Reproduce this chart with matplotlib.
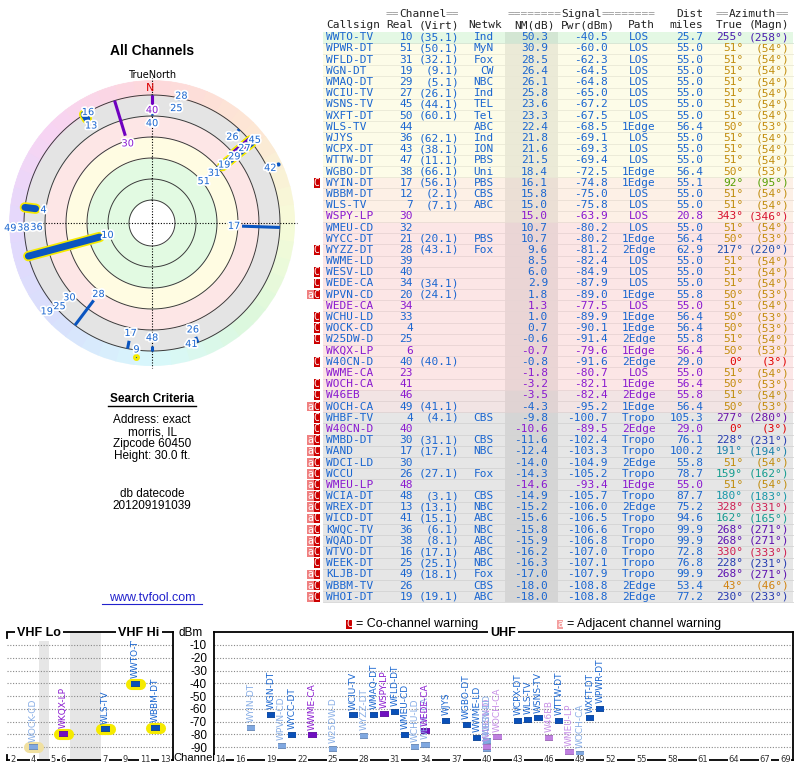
import numpy as np
import matplotlib.pyplot as plt
import matplotlib.patheffects as pe
from matplotlib.patches import Rectangle
from matplotlib.colors import LinearSegmentedColormap, to_rgb

# ---- station table, in the order of the page (sorted by NM) ----
callsign = ['WWTO-TV', 'WPWR-DT', 'WFLD-DT', 'WGN-DT', 'WMAQ-DT', 'WCIU-TV', 'WSNS-TV', 'WXFT-DT',
            'WLS-TV', 'WJYS', 'WCPX-DT', 'WTTW-DT', 'WGBO-DT', 'WYIN-DT', 'WBBM-DT', 'WLS-TV',
            'WSPY-LP', 'WMEU-CD', 'WYCC-DT', 'WYZZ-DT', 'WWME-LD', 'WESV-LD', 'WEDE-CA', 'WPVN-CD',
            'WEDE-CA', 'WCHU-LD', 'WOCK-CD', 'W25DW-D', 'WKQX-LP', 'W40CN-D', 'WWME-CA', 'WOCH-CA',
            'W46EB', 'WOCH-CA', 'WHBF-TV', 'W40CN-D', 'WMBD-DT', 'WAND', 'WDCI-LD', 'WCCU',
            'WMEU-LP', 'WCIA-DT', 'WREX-DT', 'WICD-DT', 'KWQC-TV', 'WQAD-DT', 'WTVO-DT', 'WEEK-DT',
            'KLJB-DT', 'WBBM-TV', 'WHOI-DT']
real_ch = [10, 51, 31, 19, 29, 27, 45, 50, 44, 36, 43, 47, 38, 17, 12, 7, 30, 32, 21, 28,
           39, 40, 34, 20, 34, 33, 4, 25, 6, 40, 23, 41, 46, 49, 4, 40, 30, 17, 30, 26,
           48, 48, 13, 41, 36, 38, 16, 25, 49, 26, 19]
virt_ch = ['35.1', '50.1', '32.1', '9.1', '5.1', '26.1', '44.1', '60.1', '', '62.1', '38.1', '11.1',
           '66.1', '56.1', '2.1', '7.1', '', '', '20.1', '43.1', '', '', '34.1', '24.1', '', '', '',
           '', '', '40.1', '', '', '', '41.1', '4.1', '', '31.1', '17.1', '', '27.1', '', '3.1',
           '13.1', '15.1', '6.1', '8.1', '17.1', '25.1', '18.1', '', '19.1']
network = (['Ind', 'MyN', 'Fox', 'CW', 'NBC', 'Ind', 'TEL', 'Tel', 'ABC', 'Ind', 'ION', 'PBS', 'Uni',
            'PBS', 'CBS', 'ABC', '', '', 'PBS', 'Fox'] + [''] * 14 +
           ['CBS', '', 'CBS', 'NBC', '', 'Fox', '', 'CBS', 'NBC', 'ABC', 'NBC', 'ABC', 'ABC', 'NBC',
            'Fox', 'CBS', 'ABC'])
nm_db = [50.3, 30.9, 28.5, 26.4, 26.1, 25.8, 23.6, 23.3, 22.4, 21.8, 21.6, 21.5, 18.4, 16.1, 15.8,
         15.0, 15.0, 10.7, 10.7, 9.6, 8.5, 6.0, 2.9, 1.8, 1.3, 1.0, 0.7, -0.6, -0.7, -0.8, -1.8,
         -3.2, -3.5, -4.3, -9.8, -10.6, -11.6, -12.4, -14.0, -14.3, -14.6, -14.9, -15.2, -15.6,
         -15.8, -15.9, -16.2, -16.3, -17.0, -18.0, -18.0]
pwr_dbm = [-40.5, -60.0, -62.3, -64.5, -64.8, -65.0, -67.2, -67.5, -68.5, -69.1, -69.3, -69.4,
           -72.5, -74.8, -75.0, -75.8, -63.9, -80.2, -80.2, -81.2, -82.4, -84.9, -87.9, -89.0,
           -77.5, -89.9, -90.1, -91.4, -79.6, -91.6, -80.7, -82.1, -82.4, -95.2, -100.7, -89.5,
           -102.4, -103.3, -104.9, -105.2, -93.4, -105.7, -106.0, -106.5, -106.6, -106.8, -107.0,
           -107.1, -107.9, -108.8, -108.8]
path = ['LOS'] * 8 + ['1Edge', 'LOS', 'LOS', 'LOS', '1Edge', '1Edge', 'LOS', 'LOS', 'LOS', 'LOS',
                      '1Edge', '2Edge', 'LOS', 'LOS', 'LOS', '1Edge', 'LOS', '1Edge', '1Edge', '2Edge',
                      '1Edge', '2Edge', 'LOS', '1Edge', '2Edge', '1Edge', 'Tropo', '2Edge', 'Tropo', 'Tropo',
                      '2Edge', 'Tropo', '1Edge', 'Tropo', '2Edge', 'Tropo', 'Tropo', 'Tropo', 'Tropo', 'Tropo',
                      'Tropo', '2Edge', '2Edge']
dist_mi = [25.7, 55.0, 55.0, 55.0, 55.0, 55.0, 55.0, 55.0, 56.4, 55.0, 55.0, 55.0, 56.4, 55.1, 55.0,
           55.0, 20.8, 55.0, 56.4, 62.9, 55.0, 55.0, 55.0, 55.8, 55.0, 56.4, 56.4, 55.8, 56.4, 29.0,
           55.0, 56.4, 55.8, 56.4, 105.3, 29.0, 76.1, 100.2, 55.8, 78.7, 55.0, 87.7, 75.2, 94.6,
           99.9, 99.9, 72.8, 76.8, 99.9, 53.4, 77.2]
az_true = [255, 51, 51, 51, 51, 51, 51, 51, 50, 51, 51, 51, 50, 92, 51, 51, 343, 51, 50, 217,
           51, 51, 51, 50, 51, 50, 50, 51, 50, 0, 51, 50, 51, 50, 277, 0, 228, 191, 51, 159,
           51, 180, 328, 162, 268, 268, 330, 228, 268, 43, 230]
az_magn = [258, 54, 54, 54, 54, 54, 54, 54, 53, 54, 54, 54, 53, 95, 54, 54, 346, 54, 53, 220,
           54, 54, 54, 53, 54, 53, 53, 54, 53, 3, 54, 53, 54, 53, 280, 3, 231, 194, 54, 162,
           54, 183, 331, 165, 271, 271, 333, 231, 271, 46, 233]
# 'A' = analog / low power rows printed in purple
kind = ['D'] * 16 + ['A'] + ['D'] * 7 + ['A', 'D', 'D', 'D', 'A', 'D', 'A', 'A', 'A', 'D', 'D', 'A',
                              'D', 'D', 'D', 'D', 'A'] + ['D'] * 10
warning = ([''] * 13 + ['C'] + [''] * 5 + ['C', '', 'C', 'C', 'aC', '', 'C', 'C', 'C', '', 'C', '',
                                            'C', 'C', 'aC', 'C', 'C'] + ['aC'] * 11 + ['C', 'aC', 'aC', 'aC'])

# stations seen on the radar whose rows are below the visible table
radar_ch = [25, 28, 42, 9]
radar_az = [12, 13, 65, 187]
radar_nm = [-17.6, -18.6, -30.0, -27.0]

nm_rings = [80, 60, 40, 20, 0, -20]
dbm_ticks = [-10, -20, -30, -40, -50, -60, -70, -80, -90]
vhf_ticks = [2, 4, 5, 6, 7, 9, 11, 13]
uhf_ticks = [14, 16, 19, 22, 25, 28, 31, 34, 37, 40, 43, 46, 49, 52, 55, 58, 61, 64, 67, 69]

W, H = 800, 768
MONO = 'DejaVu Sans Mono'
SANS = 'Liberation Sans'
BLUE, PURPLE = '#1a66d0', '#8a1ad0'
n = len(callsign)

az_cmap = LinearSegmentedColormap.from_list('az', [
    (0, '#e00000'), (45 / 360, '#d08a10'), (90 / 360, '#5aa000'), (135 / 360, '#10a070'),
    (180 / 360, '#1898a8'), (225 / 360, '#2040b0'), (270 / 360, '#6010b0'), (315 / 360, '#b01880'),
    (330 / 360, '#d02050'), (1, '#e00000')])
ring_cmap = LinearSegmentedColormap.from_list('ring', [
    (0, '#fdd8dc'), (45 / 360, '#fde6d4'), (90 / 360, '#f6fbd8'), (135 / 360, '#dcf8dc'),
    (180 / 360, '#d8f8fc'), (225 / 360, '#d8e0fc'), (270 / 360, '#e4d8fc'), (315 / 360, '#f8d4f2'),
    (1, '#fdd8dc')])


def box(x0, y0, x1, y1):
    return [x0 / W, 1 - y1 / H, (x1 - x0) / W, (y1 - y0) / H]


def darker(c, f=0.8):
    return tuple(np.array(to_rgb(c)) * f)


fig = plt.figure(figsize=(W / 100, H / 100), dpi=100)

# ---------------- radar plot ----------------
cx, cy, R = 152, 223, 143
NM0, NM1 = 107 / 1.05, (107 - R) / 1.05
pol = fig.add_axes(box(cx - R, cy - R, cx + R, cy + R), projection='polar')
pol.set_theta_zero_location('N')
pol.set_theta_direction(-1)
pol.set_ylim(NM0, NM1)
pol.axis('off')

th = np.linspace(0, 2 * np.pi, 361)
for top, bot, c in [(80, 40, '#e2fae2'), (40, 20, '#fffce2'), (20, 0, '#fde6e6'), (0, -20, '#e4e4e4')]:
    pol.fill_between(th, top, bot, color=c, lw=0)
for k in range(48):
    a0 = k * 7.5
    seg = np.radians(np.linspace(a0, a0 + 7.5, 4))
    c = ring_cmap(((a0 + 3.75) % 360) / 360)
    pol.fill_between(seg, -20, NM1, color=c, lw=0.6, edgecolor=c)
for lev in nm_rings:
    pol.plot(th, np.full_like(th, lev), color='#3a3a3a', lw=0.7)
for a in (0, 90, 180, 270):
    pol.plot([np.radians(a)] * 2, [NM0, NM1 - 2], color='k', lw=0.8, ls=(0, (1, 1.5)), clip_on=False)

ch_all = real_ch + radar_ch
az_all = az_true + radar_az
nm_all = nm_db + radar_nm
col_all = [PURPLE if k == 'A' else BLUE for k in kind] + [BLUE] * len(radar_ch)
for i in range(len(ch_all)):
    t = np.radians(az_all[i])
    lc = '#7000c0' if col_all[i] == PURPLE else '#0a55c0'
    vhf = ch_all[i] <= 13
    if nm_all[i] > -20:
        if vhf:
            pol.plot([t, t], [nm_all[i], -20], color='#f5ea00', lw=7.5, solid_capstyle='round', zorder=3)
        pol.plot([t, t], [nm_all[i], -20], color=lc, lw=5 if vhf else 2.2,
                 solid_capstyle='round' if vhf else 'butt', zorder=4)
    else:
        pol.plot([t], [nm_all[i]], 'o', ms=3, color=lc, mec='#f5ea00' if vhf else lc,
                 mew=2 if vhf else 0, zorder=4, clip_on=False)

placed = []
for i in sorted(range(len(ch_all)), key=lambda j: -nm_all[j]):
    lab = nm_all[i] + 7.6
    for a, l in placed:
        if abs((az_all[i] - a + 180) % 360 - 180) <= 3:
            lab = min(lab, l - 12.5)
    if lab < -36:
        continue
    placed.append((az_all[i], lab))
    pol.text(np.radians(az_all[i]), lab, str(ch_all[i]), color=col_all[i], fontsize=7,
             ha='center', va='center', zorder=6, clip_on=False,
             path_effects=[pe.withStroke(linewidth=2.5, foreground='white')])

# ---------------- spectrum charts ----------------
def vslot(c):
    return c - 2 if c <= 4 else (c - 1 if c <= 6 else c + 2.17)


axv = fig.add_axes(box(6.7, 632.2, 172.7, 760))
axv.set_xlim(-0.66, 15.94)
axu = fig.add_axes(box(214, 632.2, 792.5, 760))
axu.set_xlim(13.42, 69.7)
for ax in (axv, axu):
    ax.set_ylim(-100, 0)
    ax.set_xticks([])
    for v in dbm_ticks:
        ax.axhline(v, color='#888888', lw=0.8, ls=(0, (1, 1.5)), zorder=1)
    for s in ax.spines.values():
        s.set_linewidth(1.3)
axv.spines['left'].set_visible(False)
axv.set_yticks([])
axv.axvspan(2.6, 3.6, color='#e6e6e6', lw=0, zorder=0)
axv.axvspan(5.67, 8.77, color='#e6e6e6', lw=0, zorder=0)
axu.set_yticks(dbm_ticks)
axu.set_yticklabels([str(v) for v in dbm_ticks], fontsize=8.5, family=SANS)
axu.tick_params(axis='y', length=0, pad=5)

for c in vhf_ticks:
    axv.text(vslot(c), -100, str(c), ha='center', va='center', fontsize=6, color='#333333',
             bbox=dict(fc='white', ec='none', pad=0.6), clip_on=False, zorder=5)
for c in uhf_ticks:
    axu.text(c, -100, str(c), ha='center', va='center', fontsize=6, color='#333333',
             bbox=dict(fc='white', ec='none', pad=0.6), clip_on=False, zorder=5)

# weakest first, so the strongest station of a channel ends up on top
for i in sorted(range(n), key=lambda j: pwr_dbm[j]):
    p = pwr_dbm[i]
    if p < -100:
        continue
    c = real_ch[i]
    light = 'C' in warning[i]
    if kind[i] == 'A':
        mc, lc = ('#c080e0', '#c68ee6') if light else ('#7010c0', PURPLE)
    else:
        mc, lc = ('#80a8e0', '#88aee6') if light else ('#0a50b8', BLUE)
    effects = [pe.Stroke(linewidth=4.2, foreground=darker(mc)), pe.Normal()]
    if c <= 13:
        ax, x, hw = axv, vslot(c), 0.45
        halo = '#f0e0a0' if light else '#f5ea00'
        effects = [pe.Stroke(linewidth=8, foreground=halo, capstyle='round')] + effects
    else:
        ax, x, hw = axu, c, 0.4
    ax.plot([x - hw, x + hw], [p, p], color=mc, lw=3, solid_capstyle='butt',
            path_effects=effects, zorder=3)
    ax.annotate(callsign[i], (x, p), xytext=(0, 4), textcoords='offset points', rotation=90,
                ha='center', va='bottom', fontsize=6.5, color=lc, zorder=4, annotation_clip=False)

# ---------------- overlay: table and texts ----------------
bg = fig.add_axes([0, 0, 1, 1], zorder=10)
bg.set_xlim(0, W)
bg.set_ylim(H, 0)
bg.axis('off')


def row_color(v):
    if v >= 40:
        return '#e4f8e4'
    if v >= 17:
        return '#fdfce8'
    if v >= 14:
        return '#fdf0e6'
    if v >= -3.3:
        return '#fce6e6'
    if v >= -5:
        return '#f2e4e4'
    return '#e6e6e6'


ROW0, DY = 37.3, 11.19
FS = 8
CW = 0.602 * FS * 100 / 72
cols = [(326, 'left'), (413, 'right'), (459, 'right'), (494, 'right'), (548, 'right'),
        (608, 'right'), (639, 'center'), (703, 'right')]
for i in range(n):
    yc = ROW0 + i * DY
    rc = row_color(nm_db[i])
    bg.add_patch(Rectangle((323, yc - DY / 2), 470, DY, fc=rc, ec='none'))
    bg.plot([323, 793], [yc + DY / 2] * 2, color=darker(rc, 0.92), lw=0.6)
bg.add_patch(Rectangle((505, ROW0 - DY / 2), 53, n * DY, fc='k', alpha=0.07, ec='none'))

for i in range(n):
    yc = ROW0 + i * DY
    tc = PURPLE if kind[i] == 'A' else BLUE
    vals = [callsign[i], str(real_ch[i]), '(%s)' % virt_ch[i] if virt_ch[i] else '', network[i],
            '%.1f' % nm_db[i], '%.1f' % pwr_dbm[i], path[i], '%.1f' % dist_mi[i]]
    for (x, ha), s in zip(cols, vals):
        if s:
            bg.text(x, yc, s, color=tc, family=MONO, fontsize=FS, ha=ha, va='center')
    ac = az_cmap((az_true[i] % 360) / 360)
    bg.text(743, yc, '%d°' % az_true[i], color=ac, family=MONO, fontsize=FS, ha='right', va='center')
    bg.text(789, yc, '(%d°)' % az_magn[i], color=ac, family=MONO, fontsize=FS, ha='right', va='center')
    if 'C' in warning[i]:
        bg.add_patch(Rectangle((313.5, yc - DY / 2 + 0.8), 6.5, DY - 1.6, fc='#cc0000', ec='none'))
        bg.text(316.75, yc, 'C', color='white', family=MONO, fontsize=7, ha='center', va='center')
    if 'a' in warning[i]:
        bg.add_patch(Rectangle((307, yc - DY / 2 + 0.8), 6.5, DY - 1.6, fc='#f08080', ec='none'))
        bg.text(310.25, yc, 'a', color='white', family=MONO, fontsize=7, ha='center', va='center')


def deco(word, right, y, pad):
    left = right - (len(word) + 2 * pad) * CW
    kw = dict(family=MONO, fontsize=FS, ha='left', va='center')
    bg.text(left, y, '=' * pad, color='#999999', **kw)
    bg.text(left + pad * CW, y, word, color='#222222', **kw)
    bg.text(left + (pad + len(word)) * CW, y, '=' * pad, color='#999999', **kw)


deco('Channel', 459, 14.3, 2)
deco('Signal', 655, 14.3, 8)
deco('Azimuth', 789, 14.3, 2)
bg.text(703, 14.3, 'Dist', color='#222222', family=MONO, fontsize=FS, ha='right', va='center')
for x, ha, s in [(326, 'left', 'Callsign'), (413, 'right', 'Real'), (459, 'right', '(Virt)'),
                 (501.7, 'right', 'Netwk'), (555, 'right', 'NM(dB)'), (615, 'right', 'Pwr(dBm)'),
                 (655, 'right', 'Path'), (703, 'right', 'miles'), (743, 'right', 'True'),
                 (789, 'right', '(Magn)')]:
    bg.text(x, 25.3, s, color='#222222', family=MONO, fontsize=FS, ha=ha, va='center')

# left column texts
bg.text(152, 51, 'All Channels', family=SANS, fontsize=10, fontweight='bold', ha='center', va='center')
bg.text(152, 75, 'TrueNorth', fontsize=7, ha='center', va='center')
bg.text(150, 88, 'N', color='#dd0000', fontsize=8, ha='center', va='center')
bg.text(152, 398.5, 'Search Criteria', family=SANS, fontsize=8.5, fontweight='bold', ha='center', va='center')
bg.plot([108, 196], [405.5, 405.5], color='k', lw=1)
for y, s in [(420, 'Address: exact'), (432.5, 'morris, IL'), (444.5, 'Zipcode 60450'),
             (456.5, 'Height: 30.0 ft.'), (494, 'db datecode'), (506, '201209191039')]:
    bg.text(152, y, s, family=SANS, fontsize=8.5, ha='center', va='center')
bg.text(152, 598, 'www.tvfool.com', family=SANS, fontsize=9, color='#2222cc', ha='center', va='center')
bg.plot([102, 202], [603.5, 603.5], color='#2222cc', lw=0.8)

# spectrum chart decorations
tb = dict(fc='white', ec='none', pad=1.5)
bg.text(39, 633, 'VHF Lo', family=SANS, fontsize=9, fontweight='bold', ha='center', va='center', bbox=tb)
bg.text(139, 633, 'VHF Hi', family=SANS, fontsize=9, fontweight='bold', ha='center', va='center', bbox=tb)
bg.text(503, 633, 'UHF', family=SANS, fontsize=9, fontweight='bold', ha='center', va='center', bbox=tb)
bg.plot([6.7, 6.7], [632.5, 638], color='k', lw=1.3)
bg.plot([6.7, 6.7], [754.5, 760], color='k', lw=1.3)
bg.text(191, 633, 'dBm', family=SANS, fontsize=8.5, ha='center', va='center')
bg.text(194, 758, 'Channel', family=SANS, fontsize=8, ha='center', va='center')

bg.add_patch(Rectangle((346, 619.5), 6, 9, fc='#cc0000', ec='none'))
bg.text(349, 624, 'C', color='white', family=MONO, fontsize=7, ha='center', va='center')
bg.text(356, 624, '= Co-channel warning', family=SANS, fontsize=9, ha='left', va='center')
bg.add_patch(Rectangle((557, 619.5), 6, 9, fc='#f4a0a0', ec='none'))
bg.text(560, 624, 'a', color='white', family=MONO, fontsize=7, ha='center', va='center')
bg.text(567, 624, '= Adjacent channel warning', family=SANS, fontsize=9, ha='left', va='center')

fig.savefig('out.png', dpi=100)
